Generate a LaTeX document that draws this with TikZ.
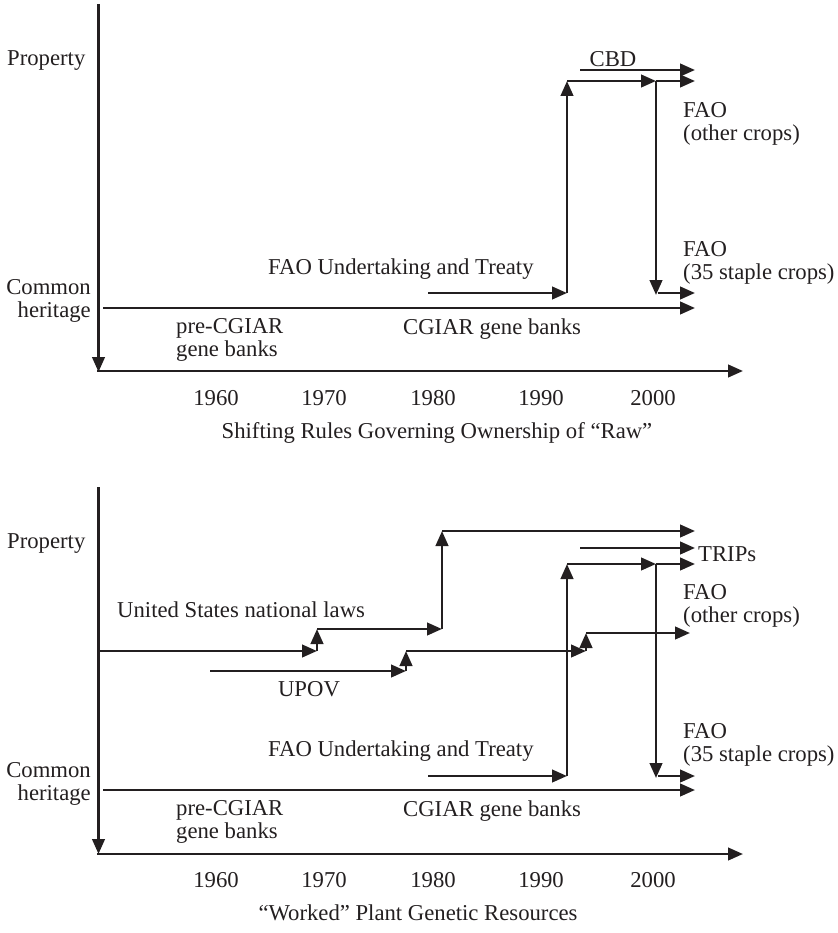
\documentclass[tikz,border=0pt]{standalone}
\usepackage{fontspec}
\setmainfont{Liberation Serif}
\usetikzlibrary{arrows.meta}
\definecolor{ink}{HTML}{231F20}
\tikzset{
  ar/.style={line width=2.7pt,-{Triangle[length=15pt,width=12.5pt]},color=ink},
  lbl/.style={inner sep=0pt,font=\fontsize{22.7}{23}\selectfont,color=ink},
}
\begin{document}
\begin{tikzpicture}[x=1pt,y=-1pt]
\useasboundingbox (0,0) rectangle (837,933);
% ================= TOP PANEL =================
\coordinate (yA1) at (98.5,4);
\coordinate (yA2) at (98.5,372);
\coordinate (xA1) at (97.2,371);
\coordinate (xA2) at (743,371);
\draw[ar] (yA1) -- (yA2);
\draw[ar] (xA1) -- (xA2);
\coordinate (ch1) at (103,308);
\coordinate (ch2) at (695,308);
\draw[ar] (ch1) -- (ch2);
\coordinate (fu1) at (428,293);
\coordinate (fu2) at (567,293);
\coordinate (fu3) at (567,81);
\coordinate (fu4) at (656,81);
\coordinate (fu5) at (695,81);
\coordinate (fd1) at (656,295);
\coordinate (fs1) at (658,293);
\coordinate (fs2) at (695,293);
\draw[ar] (fu1) -- (fu2);
\draw[ar] (fu2) -- (fu3);
\draw[ar] (fu3) -- (fu4);
\draw[ar] (fu4) -- (fu5);
\draw[ar] (fu4) -- (fd1);
\draw[ar] (fs1) -- (fs2);
\coordinate (cb1) at (580,70);
\coordinate (cb2) at (695,70);
\draw[ar] (cb1) -- (cb2);
\node[lbl,anchor=west] (tProp) at (7,61) {Property};
\node[lbl,anchor=east,align=right] (tCH) at (91,301) {Common\\heritage};
\node[lbl,anchor=west] (tFU) at (268,269) {FAO Undertaking and Treaty};
\node[lbl,anchor=west] (tCG) at (403,329) {CGIAR gene banks};
\node[lbl,anchor=west,align=left] (tPre) at (176,340) {pre-CGIAR\\gene banks};
\node[lbl] (tCBD) at (613,59) {CBD};
\node[lbl,anchor=west,align=left] (tFO) at (683,124) {FAO\\(other crops)};
\node[lbl,anchor=west,align=left] (tFS) at (683,263) {FAO\\(35 staple crops)};
\node[lbl] (y60a) at (216,398) {1960};
\node[lbl] (y70a) at (324,398) {1970};
\node[lbl] (y80a) at (433,398) {1980};
\node[lbl] (y90a) at (541,398) {1990};
\node[lbl] (y00a) at (653,398) {2000};
\node[lbl,anchor=base] (title1) at (437,438) {Shifting Rules Governing Ownership of “Raw”};
% ================= BOTTOM PANEL =================
\coordinate (yB1) at (98.5,487);
\coordinate (yB2) at (98.5,854);
\coordinate (xB1) at (97.2,854);
\coordinate (xB2) at (743,854);
\draw[ar] (yB1) -- (yB2);
\draw[ar] (xB1) -- (xB2);
\coordinate (bch1) at (103,790);
\coordinate (bch2) at (695,790);
\draw[ar] (bch1) -- (bch2);
\coordinate (bfu1) at (428,776);
\coordinate (bfu2) at (567,776);
\coordinate (bfu3) at (567,564);
\coordinate (bfu4) at (656,564);
\coordinate (bfu5) at (695,564);
\coordinate (bfd1) at (656,778);
\coordinate (bfs1) at (658,776);
\coordinate (bfs2) at (695,776);
\draw[ar] (bfu1) -- (bfu2);
\draw[ar] (bfu2) -- (bfu3);
\draw[ar] (bfu3) -- (bfu4);
\draw[ar] (bfu4) -- (bfu5);
\draw[ar] (bfu4) -- (bfd1);
\draw[ar] (bfs1) -- (bfs2);
\coordinate (tr1) at (580,548);
\coordinate (tr2) at (695,548);
\draw[ar] (tr1) -- (tr2);
% United States national laws
\coordinate (us1) at (99,651);
\coordinate (us2) at (317,651);
\coordinate (us3) at (317,629);
\coordinate (us4) at (442,629);
\coordinate (us5) at (442,531);
\coordinate (us6) at (695,531);
\draw[ar] (us1) -- (us2);
\draw[ar] (us2) -- (us3);
\draw[ar] (us3) -- (us4);
\draw[ar] (us4) -- (us5);
\draw[ar] (us5) -- (us6);
% UPOV
\coordinate (up1) at (210,671);
\coordinate (up2) at (406,671);
\coordinate (up3) at (406,651);
\coordinate (up4) at (586,651);
\coordinate (up5) at (586,633);
\coordinate (up6) at (690,633);
\draw[ar] (up1) -- (up2);
\draw[ar] (up2) -- (up3);
\draw[ar] (up3) -- (up4);
\draw[ar] (up4) -- (up5);
\draw[ar] (up5) -- (up6);
\node[lbl,anchor=west] (bProp) at (7,544) {Property};
\node[lbl,anchor=east,align=right] (bCH) at (91,784) {Common\\heritage};
\node[lbl,anchor=west] (bFU) at (268,751) {FAO Undertaking and Treaty};
\node[lbl,anchor=west] (bCG) at (403,811) {CGIAR gene banks};
\node[lbl,anchor=west,align=left] (bPre) at (176,822) {pre-CGIAR\\gene banks};
\node[lbl,anchor=west] (bTR) at (698,554) {TRIPs};
\node[lbl,anchor=west,align=left] (bFO) at (683,606) {FAO\\(other crops)};
\node[lbl,anchor=west,align=left] (bFS) at (683,745) {FAO\\(35 staple crops)};
\node[lbl,anchor=west] (bUS) at (117,610) {United States national laws};
\node[lbl] (bUP) at (309,689) {UPOV};
\node[lbl] (y60b) at (216,880) {1960};
\node[lbl] (y70b) at (324,880) {1970};
\node[lbl] (y80b) at (433,880) {1980};
\node[lbl] (y90b) at (541,880) {1990};
\node[lbl] (y00b) at (653,880) {2000};
\node[lbl,anchor=base] (title2) at (418,920) {“Worked” Plant Genetic Resources};
\end{tikzpicture}
\end{document}
